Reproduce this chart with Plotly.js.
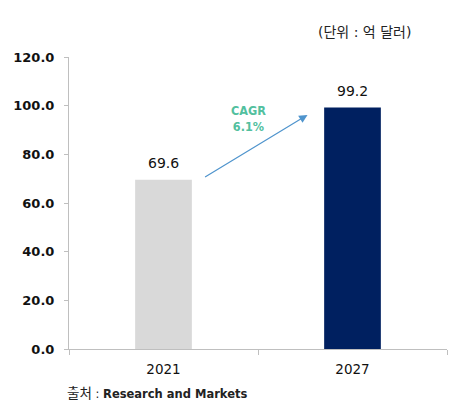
<!DOCTYPE html>
<html>
<head>
<meta charset="utf-8">
<script src="https://cdn.plot.ly/plotly-3.0.1.min.js"></script>
<style>
  html, body { margin: 0; padding: 0; background: #fff; }
  #chart { width: 472px; height: 409px; }
</style>
</head>
<body>
<div id="chart"></div>
<script>
var years = ['2021', '2027'];
var market = [69.6, 99.2];
var barColors = ['#d9d9d9', '#002060'];
var yTicks = [0, 20, 40, 60, 80, 100, 120];
var cagrText = 'CAGR<br>6.1%';
var unitText = '(단위 : 억 달러)';
var sourceText = '<span style="font-size:13.5px">출처</span> : <b>Research and Markets</b>';

var baseFont = 'DejaVu Sans, Noto Sans CJK KR, sans-serif';

var data = [{
  x: years,
  y: market,
  type: 'bar',
  marker: { color: barColors },
  hoverinfo: 'none'
}];

// value labels above bars (category index i on the x axis)
var notes = years.map(function (yr, i) {
  return {
    x: i, y: market[i], xref: 'x', yref: 'y',
    text: market[i].toFixed(1),
    showarrow: false, yanchor: 'bottom', yshift: 7,
    font: { family: baseFont, size: 14, color: '#111' }
  };
});

notes.push({
  x: 0.762, y: 96.2, ax: 0.212, ay: 70.3,
  xref: 'x', yref: 'y', axref: 'x', ayref: 'y',
  text: '', showarrow: true,
  arrowhead: 2, arrowsize: 1.4, arrowwidth: 1.2, arrowcolor: '#4f94cd'
});

notes.push({
  x: 0.452, y: 94.9, xref: 'x', yref: 'y',
  text: cagrText, showarrow: false,
  font: { family: 'Liberation Sans Narrow, DejaVu Sans Condensed, sans-serif', size: 12.5, color: '#52c09e', weight: 'bold', stretch: 'condensed' }
});

notes.push({
  x: 0.91, y: 1.0856, xref: 'paper', yref: 'paper',
  xanchor: 'right', yanchor: 'middle',
  text: unitText, showarrow: false,
  font: { family: baseFont, size: 14, color: '#222' }
});

notes.push({
  x: -0.0106, y: -0.1507, xref: 'paper', yref: 'paper',
  xanchor: 'left', yanchor: 'middle',
  text: sourceText, showarrow: false,
  font: { family: baseFont, size: 11.5, color: '#222' }
});

var layout = {
  width: 472,
  height: 409,
  margin: { l: 69, r: 25, t: 57, b: 60, pad: 0 },
  paper_bgcolor: '#fff',
  plot_bgcolor: '#fff',
  showlegend: false,
  bargap: 0.7,
  font: { family: baseFont, color: '#111' },
  xaxis: {
    type: 'category',
    categoryorder: 'array', categoryarray: years,
    range: [-0.5, 1.5], autorange: false,
    showline: true, linecolor: '#bfbfbf', linewidth: 1,
    ticks: 'outside', tickson: 'boundaries', ticklen: 5, tickcolor: '#bfbfbf',
    ticklabelstandoff: 8,
    showgrid: false, zeroline: false,
    tickfont: { size: 13.5, color: '#111' }
  },
  yaxis: {
    range: [0, 120], autorange: false,
    tickvals: yTicks,
    tickformat: '.1f',
    showline: true, linecolor: '#bfbfbf', linewidth: 1,
    ticks: 'outside', ticklen: 4, tickcolor: '#bfbfbf',
    ticklabelstandoff: 7,
    showgrid: false, zeroline: false,
    tickfont: { size: 13, color: '#111', weight: 'bold' }
  },
  annotations: notes
};

Plotly.newPlot('chart', data, layout, { displayModeBar: false, staticPlot: true });
</script>
</body>
</html>
